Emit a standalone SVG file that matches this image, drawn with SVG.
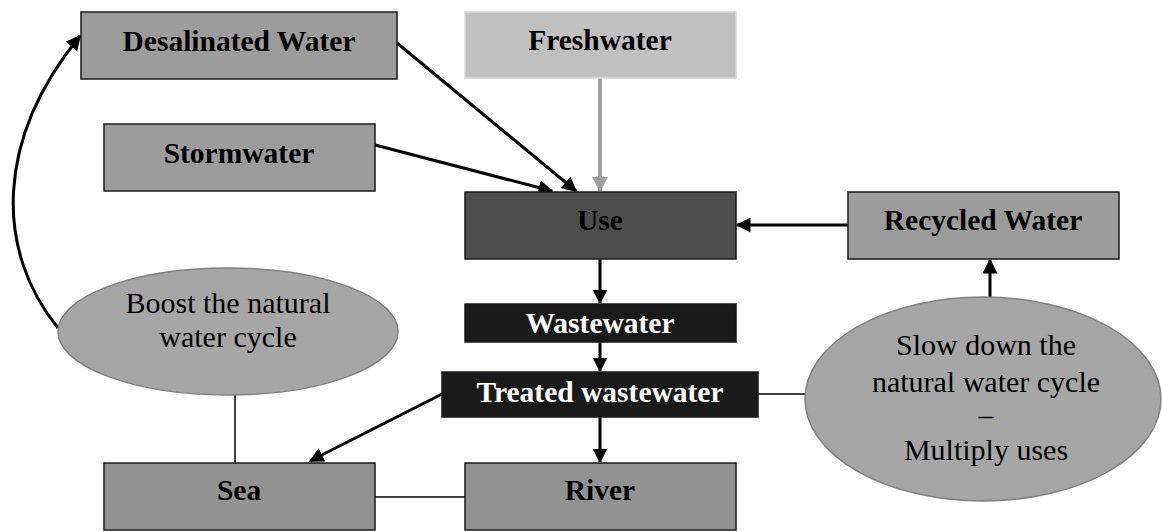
<svg xmlns="http://www.w3.org/2000/svg" width="1162" height="532" viewBox="0 0 1162 532">
<defs>
<style>
.box{stroke:#1a1a1a;stroke-width:1.5}
.gray{fill:#9c9c9c}
.dgray{fill:#929292}
.lbl{font-family:"Liberation Serif","Times New Roman",serif;font-size:29.5px;font-weight:bold;text-anchor:middle;fill:#000}
.wlbl{fill:#fff}
.oval{fill:#a6a6a6;stroke:#808080;stroke-width:1.5}
.otext{font-family:"Liberation Serif","Times New Roman",serif;font-size:30px;text-anchor:middle;fill:#000}
.arr{fill:none;stroke:#000;stroke-width:3;marker-end:url(#ah)}
.thin{fill:none;stroke:#000;stroke-width:1.5}
</style>
<marker id="ah" viewBox="0 0 10 10" refX="9" refY="5" markerWidth="5" markerHeight="5" orient="auto" markerUnits="strokeWidth">
<path d="M0,0 L10,5 L0,10 z" fill="#000"/>
</marker>
<marker id="ahg" viewBox="0 0 10 10" refX="9" refY="5" markerWidth="4" markerHeight="4" orient="auto" markerUnits="strokeWidth">
<path d="M0,0 L10,5 L0,10 z" fill="#a0a0a0"/>
</marker>
</defs>
<rect width="1162" height="532" fill="#fff"/>
<g id="connectors">
<path class="arr" d="M58,328 C-5,250 -5,140 80,36"/>
<line class="arr" x1="397" y1="43" x2="576" y2="191"/>
<line class="arr" x1="375" y1="145" x2="552" y2="191"/>
<line x1="600" y1="78" x2="600" y2="191" stroke="#a0a0a0" stroke-width="4" marker-end="url(#ahg)"/>
<line class="arr" x1="848" y1="225" x2="737" y2="225"/>
<line class="arr" x1="990" y1="297" x2="990" y2="260"/>
<line class="arr" x1="600" y1="259" x2="600" y2="303"/>
<line class="arr" x1="600" y1="342" x2="600" y2="371"/>
<line class="arr" x1="600" y1="417" x2="600" y2="462"/>
<line class="arr" x1="442" y1="394" x2="310" y2="461"/>
<line class="thin" x1="758" y1="394" x2="805" y2="394"/>
<line class="thin" x1="235" y1="395" x2="235" y2="463"/>
<line class="thin" x1="375" y1="497" x2="465" y2="497"/>
</g>
<g id="desalinated">
<rect class="box gray" x="81" y="12" width="316" height="67"/>
<text class="lbl" x="239" y="51">Desalinated Water</text>
</g>
<g id="freshwater">
<rect x="465" y="12" width="271" height="66" fill="#c0c0c0" stroke="#d8d8d8" stroke-width="1.5"/>
<text class="lbl" x="600" y="50">Freshwater</text>
</g>
<g id="stormwater">
<rect class="box gray" x="104" y="124" width="271" height="67"/>
<text class="lbl" x="239" y="163">Stormwater</text>
</g>
<g id="use">
<rect class="box" x="465" y="192" width="271" height="67" fill="#4d4d4d"/>
<text class="lbl" x="600" y="230">Use</text>
</g>
<g id="recycled">
<rect class="box gray" x="848" y="192" width="271" height="67"/>
<text class="lbl" x="983" y="230">Recycled Water</text>
</g>
<g id="wastewater">
<rect class="box" x="465" y="304" width="271" height="38" fill="#1a1a1a"/>
<text class="lbl wlbl" x="600" y="333">Wastewater</text>
</g>
<g id="treated">
<rect class="box" x="442" y="372" width="316" height="45" fill="#1a1a1a"/>
<text class="lbl wlbl" x="600" y="402">Treated wastewater</text>
</g>
<g id="boost">
<ellipse class="oval" cx="228" cy="331.5" rx="170" ry="63.5"/>
<text class="otext" x="228" y="313">Boost the natural</text>
<text class="otext" x="228" y="347">water cycle</text>
</g>
<g id="slow">
<ellipse class="oval" cx="983" cy="399" rx="178" ry="102"/>
<text class="otext" x="986" y="355">Slow down the</text>
<text class="otext" x="986" y="392">natural water cycle</text>
<text class="otext" x="986" y="425">–</text>
<text class="otext" x="986" y="460">Multiply uses</text>
</g>
<g id="sea">
<rect class="box dgray" x="104" y="463" width="271" height="67"/>
<text class="lbl" x="239" y="500">Sea</text>
</g>
<g id="river">
<rect class="box dgray" x="465" y="463" width="271" height="67"/>
<text class="lbl" x="600" y="500">River</text>
</g>
</svg>
